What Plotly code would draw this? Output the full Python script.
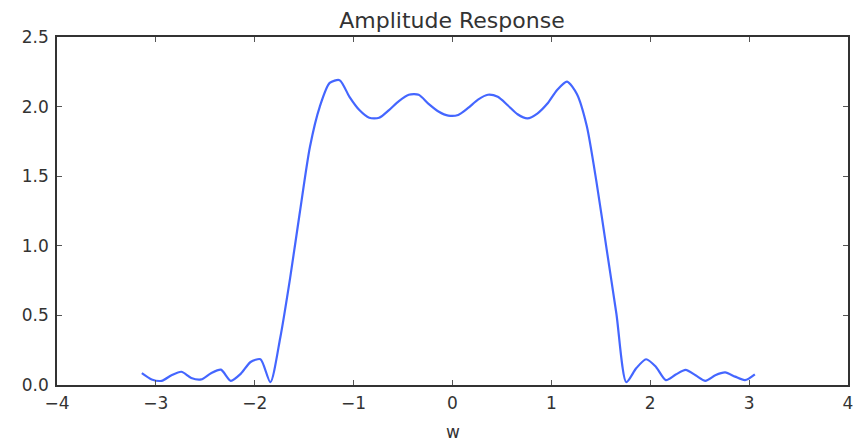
import plotly.graph_objects as go

# Frequency samples (rad/sample) and amplitude values
w = [-3.142, -3.042, -2.942, -2.842, -2.742, -2.642, -2.542, -2.442, -2.342, -2.242,
     -2.142, -2.042, -1.942, -1.842, -1.742, -1.642, -1.542, -1.442, -1.342, -1.242,
     -1.142, -1.042, -0.942, -0.842, -0.742, -0.642, -0.542, -0.442, -0.342, -0.242,
     -0.142, -0.042, 0.058, 0.158, 0.258, 0.358, 0.458, 0.558, 0.658, 0.758,
     0.858, 0.958, 1.058, 1.158, 1.258, 1.358, 1.458, 1.558, 1.658, 1.758,
     1.858, 1.958, 2.058, 2.158, 2.258, 2.358, 2.458, 2.558, 2.658, 2.758,
     2.858, 2.958, 3.058]
amplitude = [0.085, 0.040, 0.030, 0.070, 0.095, 0.050, 0.040, 0.085, 0.110, 0.030,
             0.080, 0.165, 0.185, 0.020, 0.340, 0.770, 1.250, 1.710, 2.000, 2.170,
             2.190, 2.070, 1.975, 1.920, 1.920, 1.975, 2.040, 2.085, 2.085, 2.020,
             1.965, 1.935, 1.940, 1.990, 2.050, 2.085, 2.070, 2.010, 1.945, 1.915,
             1.950, 2.020, 2.120, 2.180, 2.090, 1.860, 1.450, 0.980, 0.510, 0.020,
             0.120, 0.185, 0.130, 0.035, 0.075, 0.108, 0.070, 0.030, 0.070, 0.090,
             0.060, 0.035, 0.077]

x_ticks = [-4, -3, -2, -1, 0, 1, 2, 3, 4]
x_tick_labels = ["\u22124", "\u22123", "\u22122", "\u22121", "0", "1", "2", "3", "4"]
y_ticks = [0.0, 0.5, 1.0, 1.5, 2.0, 2.5]
y_tick_labels = ["0.0", "0.5", "1.0", "1.5", "2.0", "2.5"]

TEXT = "#333333"
FONT = "DejaVu Sans"

fig = go.Figure()
fig.add_trace(go.Scatter(x=w, y=amplitude, mode="lines",
                         line=dict(color="#4466ff", width=2.2, shape="spline", smoothing=0.7),
                         showlegend=False, hoverinfo="skip"))

axis_common = dict(showgrid=False, zeroline=False, showline=True, mirror="ticks",
                   linecolor="#333333", linewidth=1.5, ticks="inside", ticklen=5,
                   tickwidth=1, tickcolor="#555555", automargin=False,
                   tickfont=dict(family=FONT, size=17, color=TEXT))

# page body has an 8px margin, so the figure is sized to fit the 865x441 window
W, H = 857, 433
PT, PB = 29, 377            # plot area top / bottom inside the figure
PH = PB - PT
fig.update_layout(
    width=W, height=H,
    margin=dict(l=49, r=W - 840, t=PT, b=H - PB, autoexpand=False),
    paper_bgcolor="white", plot_bgcolor="white",
    title=dict(text="Amplitude Response", x=(452 - 8) / W, xanchor="center",
               y=1 - 12 / H, yanchor="middle",
               font=dict(family=FONT, size=22, color=TEXT)),
    xaxis=dict(range=[-4, 4], tickvals=x_ticks, ticktext=x_tick_labels,
               ticklabelstandoff=2, **axis_common),
    yaxis=dict(range=[0, 2.5], tickvals=y_ticks, ticktext=y_tick_labels,
               ticklabelstandoff=3, **axis_common),
    annotations=[dict(text="w", xref="paper", yref="paper", x=0.5,
                      y=-(424 - PB) / PH, xanchor="center", yanchor="middle",
                      showarrow=False,
                      font=dict(family=FONT, size=17, color=TEXT))],
)

fig.write_html("out.html")
